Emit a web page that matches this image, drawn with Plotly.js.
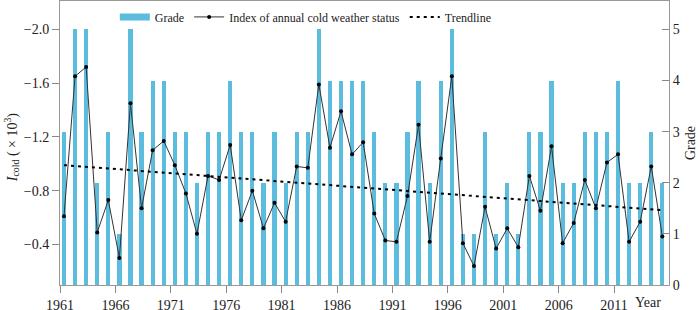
<!DOCTYPE html>
<html>
<head>
<meta charset="utf-8">
<script src="https://cdn.plot.ly/plotly-3.0.1.min.js"></script>
<style>html,body{margin:0;padding:0;background:#fff;}#chart{width:700px;height:310px;}</style>
</head>
<body>
<div id="chart"></div>
<script>
const years = [1961,1962,1963,1964,1965,1966,1967,1968,1969,1970,
  1971,1972,1973,1974,1975,1976,1977,1978,1979,1980,
  1981,1982,1983,1984,1985,1986,1987,1988,1989,1990,
  1991,1992,1993,1994,1995,1996,1997,1998,1999,2000,
  2001,2002,2003,2004,2005,2006,2007,2008,2009,2010,
  2011,2012,2013,2014,2015];
const grade = [3,5,5,2,3,1,5,3,4,4,
  3,3,2,3,3,4,3,3,2,3,
  2,3,3,5,4,4,4,4,3,2,
  2,3,4,2,4,5,1,1,3,1,
  2,1,3,3,4,2,2,3,3,3,
  4,2,2,3,2];
const coldIndex = [-0.61,-1.65,-1.72,-0.49,-0.73,-0.30,-1.45,-0.67,-1.10,-1.17,
  -0.99,-0.78,-0.48,-0.91,-0.88,-1.14,-0.58,-0.80,-0.52,-0.71,
  -0.57,-0.98,-0.97,-1.59,-1.12,-1.39,-1.07,-1.16,-0.63,-0.43,
  -0.42,-0.76,-1.29,-0.42,-1.04,-1.65,-0.41,-0.24,-0.68,-0.37,
  -0.52,-0.38,-0.91,-0.65,-1.13,-0.41,-0.56,-0.88,-0.67,-1.01,
  -1.07,-0.42,-0.57,-0.98,-0.46];
const trendYears = [1961, 2015];
const trendValues = [-0.99, -0.655];
const tickYears = [1961,1966,1971,1976,1981,1986,1991,1996,2001,2006,2011];
const gradeTicks = [0,1,2,3,4,5];
const indexTicks = [-2.0,-1.6,-1.2,-0.8,-0.4];

const barColor = '#5BBCDE';
const serif = 'Liberation Serif, Times New Roman, serif';

const traces = [
  {type:'bar', x:years, y:grade, yaxis:'y', marker:{color:barColor, line:{width:0}},
   width:0.38, showlegend:false, name:'Grade', hoverinfo:'skip'},
  {type:'scatter', mode:'lines', x:[null], y:[null], yaxis:'y', name:'Grade',
   line:{color:barColor, width:7}},
  {type:'scatter', mode:'lines+markers', x:years, y:coldIndex, yaxis:'y2',
   name:'Index of annual cold weather status',
   line:{color:'#333', width:1}, marker:{color:'#000', size:4}},
  {type:'scatter', mode:'lines', x:trendYears, y:trendValues, yaxis:'y2',
   name:'Trendline', line:{color:'#000', width:2, dash:'3px,4px'}}
];

const layout = {
  width:700, height:310,
  margin:{l:60, r:31, t:1, b:25, pad:0},
  paper_bgcolor:'#fff', plot_bgcolor:'#fff',
  font:{family:serif, size:14, color:'#222'},
  bargap:0,
  showlegend:true,
  legend:{orientation:'h', x:0.09, y:0.995, xanchor:'left', yanchor:'top',
    bgcolor:'rgba(255,255,255,0)', font:{family:serif, size:12, color:'#222'},
    traceorder:'normal', itemwidth:30, tracegroupgap:0},
  xaxis:{range:[1960.64, 2015.6], tickvals:tickYears.map(v=>v-0.36),
    ticktext:tickYears.map(String), ticks:'outside', ticklen:7, tickcolor:'#888',
    showline:true, linecolor:'#999', linewidth:1, mirror:true,
    showgrid:false, zeroline:false, tickfont:{size:14, family:serif, color:'#222'}},
  yaxis:{side:'right', range:[0, 5.556], tickvals:gradeTicks, ticks:'inside',
    ticklen:7, tickcolor:'#888', showline:true, linecolor:'#999', linewidth:1,
    showgrid:false, zeroline:false, tickfont:{size:14, family:serif, color:'#222'},
    title:{text:'Grade', font:{size:14, family:serif, color:'#222'}, standoff:6}},
  yaxis2:{side:'left', overlaying:'y', range:[-0.099, -2.21], tickvals:indexTicks,
    tickformat:'.1f', ticks:'outside', ticklen:7, tickcolor:'#888',
    showline:true, linecolor:'#999', linewidth:1, showgrid:false, zeroline:false,
    tickfont:{size:14, family:serif, color:'#222'}},
  annotations:[
    {text:'Year', xref:'paper', yref:'paper', x:0.9655, y:-0.062,
     xanchor:'center', yanchor:'middle', showarrow:false,
     font:{size:14, family:serif, color:'#222'}},
    {text:'<i>I</i><sub>cold</sub> ( × 10<sup>3</sup>)', xref:'paper', yref:'paper',
     x:-0.079, y:0.485, xanchor:'center', yanchor:'middle', textangle:-90,
     showarrow:false, font:{size:14, family:serif, color:'#222'}}
  ]
};

Plotly.newPlot('chart', traces, layout, {displayModeBar:false, staticPlot:true});
</script>
</body>
</html>
